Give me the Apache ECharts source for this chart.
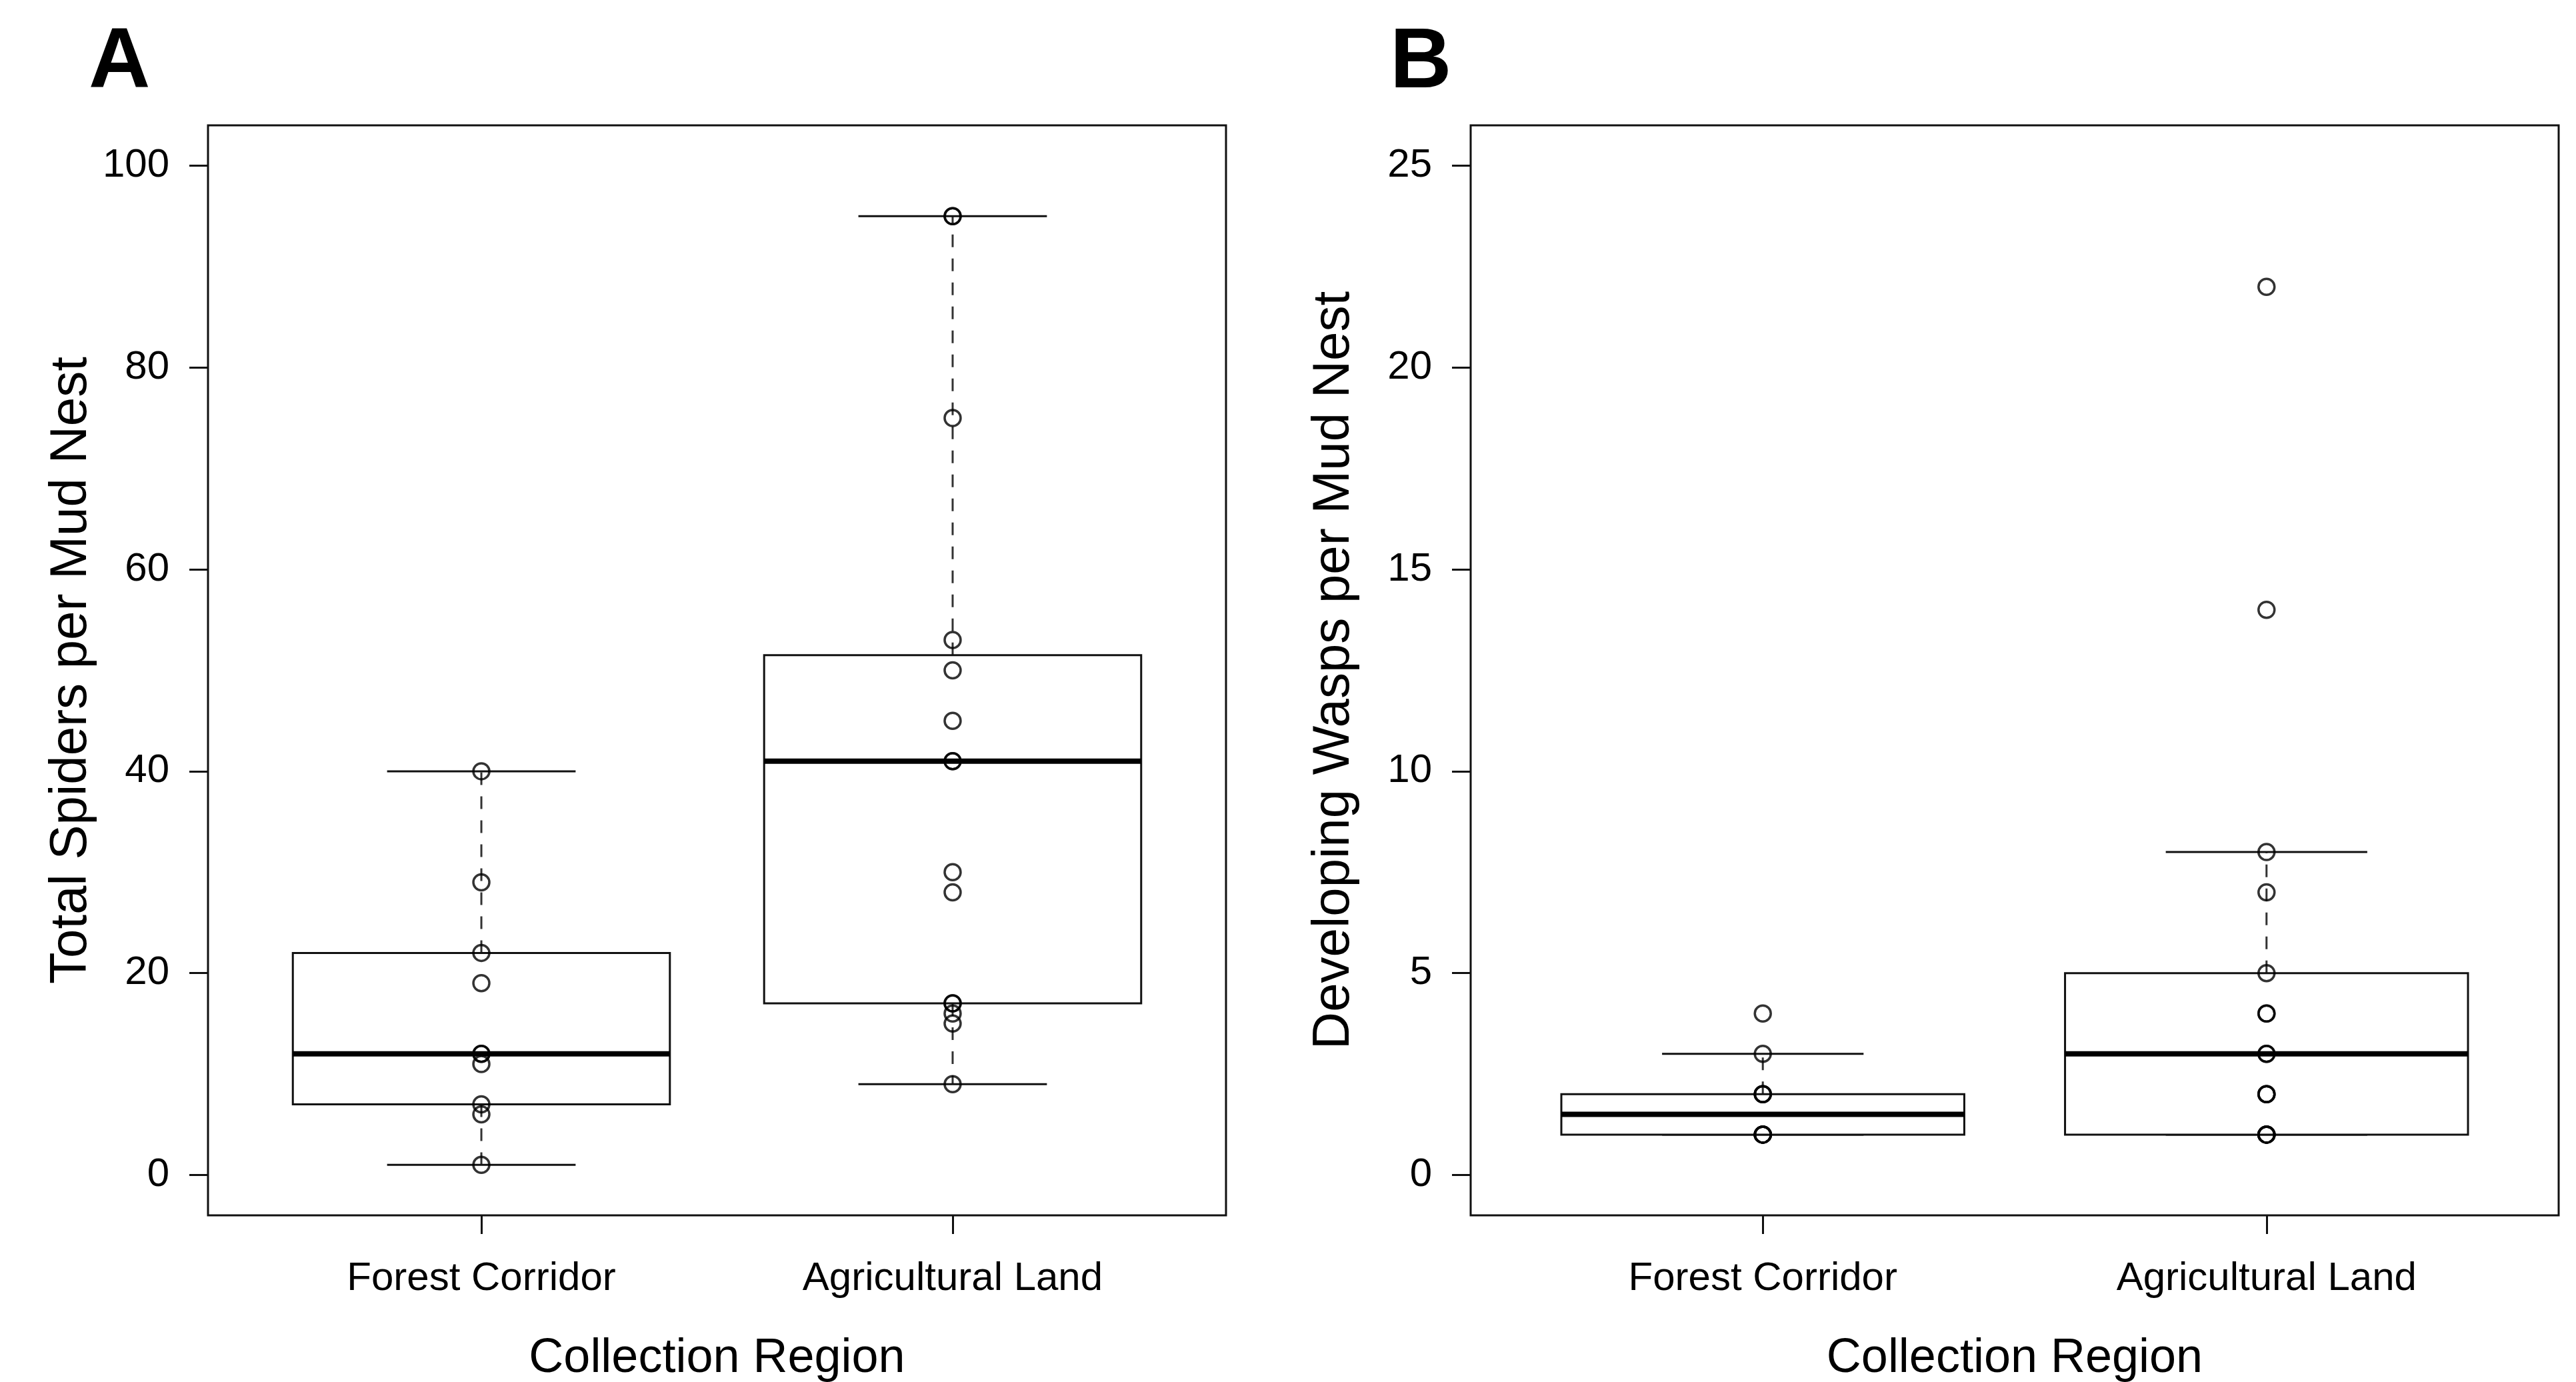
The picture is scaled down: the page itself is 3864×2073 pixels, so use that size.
<!DOCTYPE html>
<html>
<head>
<meta charset="utf-8">
<script src="https://cdn.jsdelivr.net/npm/echarts@6/dist/echarts.min.js"></script>
<style>
  html, body { margin: 0; padding: 0; background: #fff; }
  #main { width: 3864px; height: 2073px; }
</style>
</head>
<body>
<div id="main"></div>
<script>
var categories = ['Forest Corridor', 'Agricultural Land'];

// panel A: total spiders per mud nest
var spidersForest = [1, 6, 7, 11, 12, 12, 19, 22, 29, 40];
var spidersAgri = [9, 15, 16, 17, 17, 28, 30, 41, 41, 45, 50, 53, 75, 95, 95];
var spiderTicks = [0, 20, 40, 60, 80, 100];

// panel B: developing wasps per mud nest
var waspsForest = [1, 1, 1, 1, 1, 2, 2, 2, 3, 4];
var waspsAgri = [1, 1, 1, 1, 1, 2, 2, 2, 3, 3, 4, 4, 5, 7, 8, 14, 22];
var waspTicks = [0, 5, 10, 15, 20, 25];

var FONT = 'Liberation Sans, Arial, Helvetica, sans-serif';
var BOX_WIDTH = 0.8;

// Tukey five-number summary + 1.5 IQR whiskers, like R's boxplot
function boxStats(values, pos) {
    var s = values.slice().sort(function (a, b) { return a - b; });
    var n = s.length;
    var n4 = Math.floor((n + 3) / 2) / 2;
    var idx = [1, n4, (n + 1) / 2, n + 1 - n4, n];
    var f = idx.map(function (d) {
        return 0.5 * (s[Math.floor(d) - 1] + s[Math.ceil(d) - 1]);
    });
    var iqr = f[3] - f[1];
    var lo = s.filter(function (v) { return v >= f[1] - 1.5 * iqr; })[0];
    var inside = s.filter(function (v) { return v <= f[3] + 1.5 * iqr; });
    var hi = inside[inside.length - 1];
    return [pos, lo, f[1], f[2], f[3], hi];
}

function points(values, pos) {
    return values.map(function (v) { return [pos, v]; });
}

function renderBox(params, api) {
    var x = api.value(0);
    var lo = api.coord([x, api.value(1)]);
    var q1 = api.coord([x, api.value(2)]);
    var md = api.coord([x, api.value(3)]);
    var q3 = api.coord([x, api.value(4)]);
    var hi = api.coord([x, api.value(5)]);
    var half = api.size([BOX_WIDTH, 0])[0] / 2;
    var cap = half / 2;
    var cx = md[0];
    var thin = { stroke: '#111', lineWidth: 3 };
    var dashed = { stroke: '#333', lineWidth: 3, lineDash: [19, 17] };
    return {
        type: 'group',
        children: [
            { type: 'line', shape: { x1: cx, y1: q3[1], x2: cx, y2: hi[1] }, style: dashed },
            { type: 'line', shape: { x1: cx, y1: q1[1], x2: cx, y2: lo[1] }, style: dashed },
            { type: 'line', shape: { x1: cx - cap, y1: hi[1], x2: cx + cap, y2: hi[1] }, style: thin },
            { type: 'line', shape: { x1: cx - cap, y1: lo[1], x2: cx + cap, y2: lo[1] }, style: thin },
            { type: 'rect', shape: { x: cx - half, y: q3[1], width: half * 2, height: q1[1] - q3[1] },
              style: { fill: '#fff', stroke: '#111', lineWidth: 3 } },
            { type: 'line', shape: { x1: cx - half, y1: md[1], x2: cx + half, y2: md[1] },
              style: { stroke: '#000', lineWidth: 8 } }
        ]
    };
}

function xAxisFor(gridIndex) {
    return {
        type: 'value', gridIndex: gridIndex, min: 0.42, max: 2.58,
        name: 'Collection Region', nameLocation: 'middle', nameGap: 179,
        nameTextStyle: { fontFamily: FONT, fontSize: 72, color: '#000' },
        axisLine: { show: false, onZero: false },
        axisTick: { show: true, customValues: [1, 2], length: 28, lineStyle: { color: '#111', width: 3 } },
        axisLabel: {
            customValues: [1, 2], margin: 65, fontFamily: FONT, fontSize: 60, color: '#000',
            formatter: function (v) { return categories[Math.round(v) - 1]; }
        },
        splitLine: { show: false }
    };
}

function yAxisFor(gridIndex, name, ticks, min, max) {
    return {
        type: 'value', gridIndex: gridIndex, min: min, max: max,
        name: name, nameLocation: 'middle', nameGap: 166, nameRotate: 90,
        nameTextStyle: { fontFamily: FONT, fontSize: 78, color: '#000' },
        axisLine: { show: false, onZero: false },
        axisTick: { show: true, customValues: ticks, length: 28, lineStyle: { color: '#111', width: 3 } },
        axisLabel: { customValues: ticks, margin: 58, fontFamily: FONT, fontSize: 60, color: '#000' },
        splitLine: { show: false }
    };
}

var myChart = echarts.init(document.getElementById('main'), null, { renderer: 'canvas' });

var scatterStyle = {
    color: 'rgba(0,0,0,0)',
    borderColor: '#000',
    borderWidth: 3.5
};

var option = {
    backgroundColor: '#fff',
    animation: false,
    title: [
        { text: 'A', left: 128, top: 27, textStyle: { fontFamily: FONT, fontSize: 128, fontWeight: 'bold', color: '#000' } },
        { text: 'B', left: 2080, top: 27, textStyle: { fontFamily: FONT, fontSize: 128, fontWeight: 'bold', color: '#000' } }
    ],
    grid: [
        { left: 312, right: 2025, top: 188, bottom: 250, outerBoundsMode: 'none',
          show: true, borderColor: '#111', borderWidth: 3 },
        { left: 2206, right: 26, top: 188, bottom: 250, outerBoundsMode: 'none',
          show: true, borderColor: '#111', borderWidth: 3 }
    ],
    xAxis: [xAxisFor(0), xAxisFor(1)],
    yAxis: [
        yAxisFor(0, 'Total Spiders per Mud Nest', spiderTicks, -4, 104),
        yAxisFor(1, 'Developing Wasps per Mud Nest', waspTicks, -1, 26)
    ],
    series: [
        {
            type: 'custom', xAxisIndex: 0, yAxisIndex: 0, renderItem: renderBox, z: 2,
            encode: { x: 0, y: [1, 2, 3, 4, 5] },
            data: [boxStats(spidersForest, 1), boxStats(spidersAgri, 2)]
        },
        {
            type: 'custom', xAxisIndex: 1, yAxisIndex: 1, renderItem: renderBox, z: 2,
            encode: { x: 0, y: [1, 2, 3, 4, 5] },
            data: [boxStats(waspsForest, 1), boxStats(waspsAgri, 2)]
        },
        {
            type: 'scatter', xAxisIndex: 0, yAxisIndex: 0, z: 3,
            symbol: 'circle', symbolSize: 24, itemStyle: scatterStyle,
            data: points(spidersForest, 1).concat(points(spidersAgri, 2))
        },
        {
            type: 'scatter', xAxisIndex: 1, yAxisIndex: 1, z: 3,
            symbol: 'circle', symbolSize: 24, itemStyle: scatterStyle,
            data: points(waspsForest, 1).concat(points(waspsAgri, 2))
        }
    ]
};

myChart.setOption(option);
</script>
</body>
</html>
